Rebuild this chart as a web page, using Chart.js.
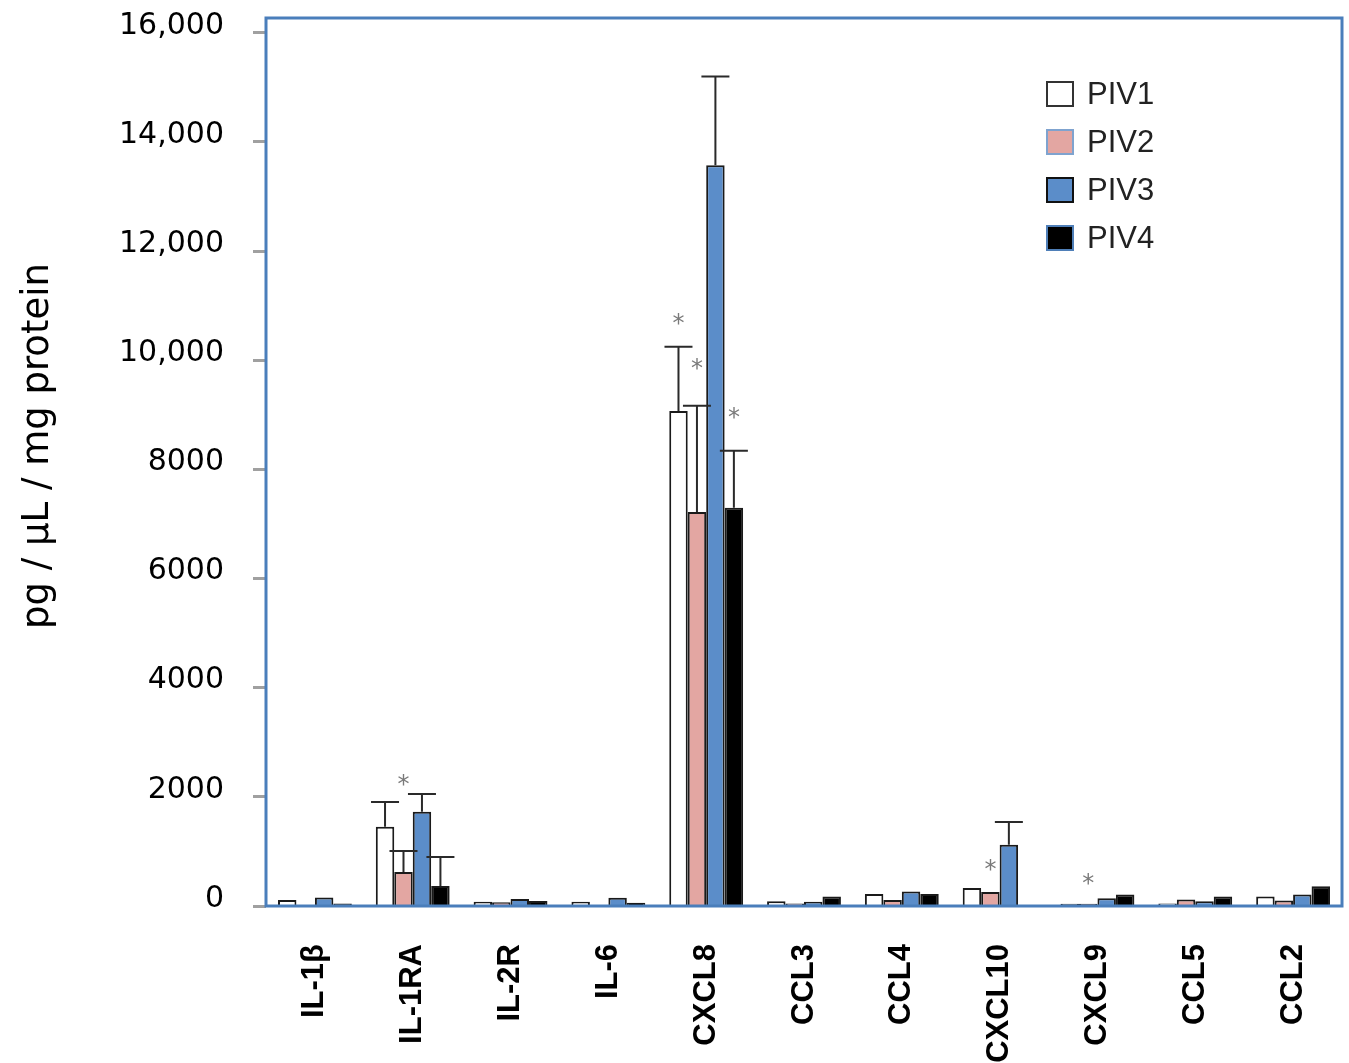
<!DOCTYPE html>
<html><head><meta charset="utf-8">
<script src="https://cdn.jsdelivr.net/npm/chart.js@4.4.1/dist/chart.umd.min.js"></script>
<style>html,body{margin:0;padding:0;background:#fff}#wrap{width:1349px;height:1063px;position:relative}canvas{display:block}</style>
</head><body><div id="wrap"><canvas id="c" width="1349" height="1063" style="width:1349px;height:1063px"></canvas></div>
<script>
// ---- data ----
const categories = ['IL-1β','IL-1RA','IL-2R','IL-6','CXCL8','CCL3','CCL4','CXCL10','CXCL9','CCL5','CCL2'];
const seriesNames = ['PIV1','PIV2','PIV3','PIV4'];
const piv1 = [110, 1450, 80, 80, 9070, 85, 220, 330, 40, 45, 175];
const piv2 = [10, 625, 70, 5, 7220, 45, 110, 257, 40, 120, 100];
const piv3 = [155, 1725, 130, 150, 13570, 80, 265, 1120, 140, 85, 210];
const piv4 = [45, 367, 90, 60, 7295, 175, 220, 15, 210, 175, 360];
// upper end of the error bar (mean + SD); null = no error bar
const piv1Top = [null, 1906, null, null, 10246, null, null, null, null, null, null];
const piv2Top = [null, 1008, null, null, 9165, null, null, null, null, null, null];
const piv3Top = [null, 2053, null, null, 15200, null, null, 1540, null, null, null];
const piv4Top = [null, 898, null, null, 8340, null, null, null, null, null, null];
// significance asterisks: category, series index, value height
const starCats = ['IL-1RA', 'CXCL8', 'CXCL8', 'CXCL8', 'CXCL10', 'CXCL9'];
const starSeries = [1, 0, 1, 3, 1, 1];
const starValues = [2290, 10740, 9915, 9018, 733, 477];
const yTicks = [0, 2000, 4000, 6000, 8000, 10000, 12000, 14000, 16000];
const yTickLabels = ['0', '2000', '4000', '6000', '8000', '10,000', '12,000', '14,000', '16,000'];
const yTitle = 'pg / µL / mg protein';

// ---- styles ----
const fills = ['#ffffff', '#E3A6A2', '#5B8DC9', '#000000'];
const legendBorders = ['#333333', '#7FA3CF', '#111111', '#4F7FB8'];
const frameColor = '#4A7EBB';

const errTops = [piv1Top, piv2Top, piv3Top, piv4Top];
const values = [piv1, piv2, piv3, piv4];

const errorBarPlugin = {
  id: 'errorBars',
  afterDatasetsDraw(chart) {
    const ctx = chart.ctx, y = chart.scales.y;
    ctx.save();
    ctx.strokeStyle = '#2a2a2a';
    ctx.lineWidth = 2;
    chart.data.datasets.forEach((ds, i) => {
      const meta = chart.getDatasetMeta(i);
      meta.data.forEach((bar, j) => {
        const top = errTops[i][j];
        if (top == null) return;
        const yt = y.getPixelForValue(top);
        ctx.beginPath();
        ctx.moveTo(bar.x, bar.y);
        ctx.lineTo(bar.x, yt);
        ctx.moveTo(bar.x - 14, yt);
        ctx.lineTo(bar.x + 14, yt);
        ctx.stroke();
      });
    });
    // asterisks
    ctx.fillStyle = '#7a7a7a';
    ctx.font = '24px "DejaVu Sans"';
    ctx.textAlign = 'center';
    ctx.textBaseline = 'middle';
    starCats.forEach((c, k) => {
      const j = categories.indexOf(c);
      const bar = chart.getDatasetMeta(starSeries[k]).data[j];
      const yp = y.getPixelForValue(starValues[k]);
      ctx.fillText('*', bar.x, yp + 5);
    });
    ctx.restore();
  }
};

const framePlugin = {
  id: 'frame',
  afterDraw(chart) {
    const a = chart.chartArea, ctx = chart.ctx;
    ctx.save();
    ctx.strokeStyle = frameColor;
    ctx.lineWidth = 3;
    ctx.strokeRect(a.left, a.top, a.right - a.left, a.bottom - a.top);
    // legend
    const lx = a.right - 295, ly = a.top + 64, row = 48, box = 24;
    ctx.font = '31px "Liberation Sans"';
    ctx.textAlign = 'left';
    ctx.textBaseline = 'middle';
    chart.data.datasets.forEach((ds, i) => {
      const yy = ly + i * row;
      ctx.fillStyle = fills[i];
      ctx.fillRect(lx, yy, box + 2, box);
      ctx.strokeStyle = legendBorders[i];
      ctx.lineWidth = 2;
      ctx.strokeRect(lx, yy, box + 2, box);
      ctx.fillStyle = '#222';
      ctx.fillText(ds.label, lx + 40, yy + box / 2 + 1);
    });
    // y axis title
    ctx.save();
    ctx.translate(38, (a.top + a.bottom) / 2 - 16);
    ctx.rotate(-Math.PI / 2);
    ctx.font = '37px "DejaVu Sans"';
    ctx.fillStyle = '#000';
    ctx.textAlign = 'center';
    ctx.textBaseline = 'middle';
    ctx.fillText(yTitle, 0, 0);
    ctx.restore();
    ctx.restore();
  }
};

new Chart(document.getElementById('c'), {
  type: 'bar',
  data: {
    labels: categories,
    datasets: seriesNames.map((n, i) => ({
      label: n,
      data: values[i],
      backgroundColor: fills[i],
      borderColor: '#1a1a1a',
      borderWidth: 2,
      categoryPercentage: 0.755,
      barPercentage: 1.0
    }))
  },
  options: {
    responsive: false,
    maintainAspectRatio: false,
    animation: false,
    devicePixelRatio: 1,
    layout: { padding: { top: 18, right: 7, left: 0, bottom: 0 } },
    plugins: { legend: { display: false }, tooltip: { enabled: false } },
    scales: {
      x: {
        grid: { display: false, drawTicks: false },
        border: { display: false },
        ticks: {
          minRotation: 90, maxRotation: 90, padding: 38, autoSkip: false,
          color: '#000',
          font: { family: '"Liberation Sans"', size: 31, weight: 'bold' }
        },
        afterFit(s) { s.height = 157; s.paddingLeft = 0; s.paddingRight = 0; }
      },
      y: {
        min: 0, max: 16270,
        afterBuildTicks(s) { s.ticks = yTicks.map(v => ({ value: v })); },
        grid: { drawOnChartArea: false, drawTicks: true, tickLength: 13, tickColor: '#a0a0a0', tickWidth: 3 },
        border: { display: false },
        ticks: {
          padding: 29, labelOffset: -7, color: '#000',
          font: { family: '"DejaVu Sans"', size: 30 },
          callback: (v) => yTickLabels[yTicks.indexOf(v)]
        },
        afterFit(s) { s.width = 266; s.paddingTop = 0; s.paddingBottom = 0; }
      }
    }
  },
  plugins: [errorBarPlugin, framePlugin]
});
</script>
</body></html>
